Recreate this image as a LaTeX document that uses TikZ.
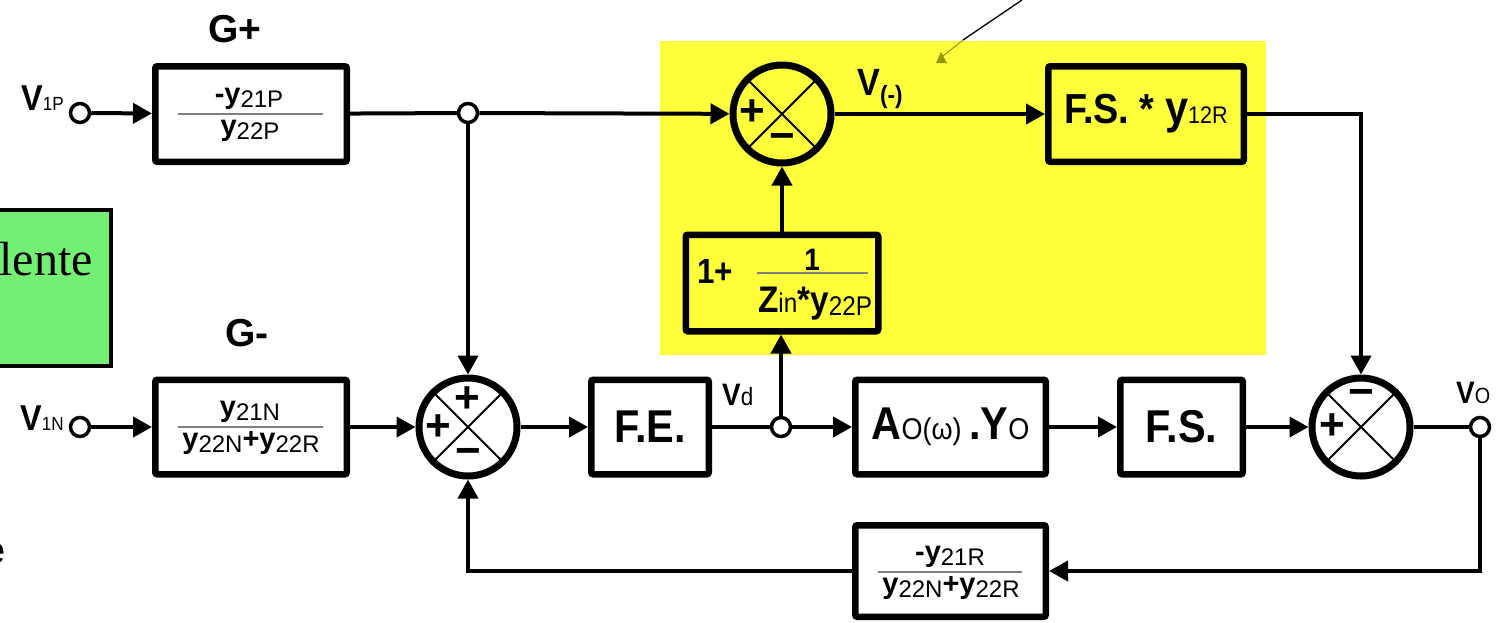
\documentclass[tikz,border=0pt]{standalone}
\usepackage{fontspec}
\setmainfont{Liberation Sans}
\newfontfamily\narrow{Liberation Sans}[FakeStretch=0.9]
\newfontfamily\seriffam{Liberation Serif}
\usetikzlibrary{arrows.meta,calc}
\newcommand{\fsz}[1]{\fontsize{#1}{#1}\selectfont}
\newcommand{\sbs}[3]{\raisebox{-#1pt}{\mdseries\fsz{#2}#3}}
\definecolor{yel}{RGB}{255,255,60}
\definecolor{grn}{RGB}{115,240,115}
\definecolor{oliv}{RGB}{150,150,0}
\tikzset{
 blk/.style={draw, line width=6.5pt, rounded corners=2pt, inner sep=0pt},
 sumnode/.style={circle, draw, line width=7pt, minimum size=98pt, inner sep=0pt},
 term/.style={circle, draw, line width=3.5pt, fill=white, minimum size=19pt, inner sep=0pt},
 wire/.style={line width=4pt},
 arr/.style={wire, -{Triangle[length=19pt,width=20pt]}},
 fracline/.style={line width=1.5pt, gray},
 xline/.style={line width=2pt},
 sign/.style={font=\fsz{44}\bfseries, inner sep=0pt},
 lbl/.style={inner sep=0pt, anchor=base},
 big/.style={font=\narrow\bfseries\fsz{46}},
 frac/.style={lbl, font=\bfseries\fsz{29}},
}
\begin{document}
\begin{tikzpicture}[x=1pt,y=-1pt]
\useasboundingbox (0,0) rectangle (1499,622);
\clip (0,0) rectangle (1499,622);
% backgrounds
\fill[yel] (660,41) rectangle (1266,355);
\node[draw, line width=4pt, fill=grn, minimum width=121pt, minimum height=156pt, inner sep=0pt] (green) at (50,288) {};
\node[lbl, anchor=base east, font=\seriffam\fsz{48}] (lente) at (93,275) {lente};
\node[lbl, anchor=base east, font=\fsz{38}] (e) at (6,563) {e};
% callout
\coordinate (c0) at (1022,0);
\coordinate (c1) at (963,40);
\coordinate (c2) at (943,56);
\draw[line width=1.3pt] (c0) -- (c1);
\draw[oliv, line width=1pt] (c1) -- (c2);
\fill[oliv] (936,63) -- (941,52) -- (947,63) -- cycle;
% terminals
\node[term] (i1) at (80,113) {};
\node[term] (i2) at (80,427) {};
\node[term] (j1) at (468,113) {};
\node[term] (j2) at (781,427) {};
\node[term] (o) at (1480,427) {};
\node[lbl, anchor=base east, font=\narrow\bfseries\fsz{36}] (v1p) at (64,110) {V\sbs{0}{19}{1P}};
\node[lbl, anchor=base east, font=\narrow\bfseries\fsz{36}] (v1n) at (64,430) {V\sbs{0}{19}{1N}};
% G+ block
\node[font=\bfseries\fsz{39}] (gpl) at (235,29) {G+};
\node[blk, minimum width=191.5pt, minimum height=95.5pt] (gp) at (251,114) {};
\draw[fracline] (178,114) -- (323,114);
\node[frac] (gpn) at (249,103) {-y\sbs{4}{24}{21P}};
\node[frac] (gpd) at (250,135) {y\sbs{4}{24}{22P}};
% G- block
\node[font=\bfseries\fsz{39}] (gml) at (247,333) {G-};
\node[blk, minimum width=191.5pt, minimum height=94.5pt] (gm) at (251,427) {};
\draw[fracline] (178,427) -- (323,427);
\node[frac] (gmn) at (250,416) {y\sbs{4}{24}{21N}};
\node[frac] (gmd) at (251,448) {y\sbs{4}{24}{22N}+y\sbs{4}{24}{22R}};
% sums
\node[sumnode] (s1) at (782,114) {};
\node[sumnode] (s2) at (468,427) {};
\node[sumnode] (s3) at (1361,427) {};
\foreach \s in {s1,s2,s3}{\draw[xline] (\s.45) -- (\s.225) (\s.135) -- (\s.315);}
\node[sign] at (752,113) {+};
\node[sign] at (782,142) {\char"2212};
\node[sign] at (467,400) {+};
\node[sign] at (438,428) {+};
\node[sign] at (468,457) {\char"2212};
\node[sign] at (1361,398) {\char"2212};
\node[sign] at (1332,427) {+};
% top right block
\node[blk, minimum width=195.5pt, minimum height=95.5pt, font=\narrow\bfseries\fsz{42}] (fsy) at (1146,114) {F.S. * {\fsz{46}y}\sbs{0}{24}{12R}};
\node[lbl, anchor=base west, font=\narrow\bfseries\fsz{38}] (vm) at (857,95) {V\sbs{8}{25}{\bfseries(-)}};
% Zin block
\node[blk, minimum width=192.5pt, minimum height=96.5pt] (zin) at (782,283) {};
\node[lbl, anchor=base west, font=\narrow\bfseries\fsz{35}] (onep) at (697,283) {1+};
\draw[fracline] (757,273) -- (868,273);
\node[lbl, font=\narrow\bfseries\fsz{31}] (one) at (812,270) {1};
\node[lbl, font=\narrow\bfseries\fsz{37}] (zy) at (815,312) {Z\sbs{0}{27}{in}*y\sbs{3}{27}{22P}};
% main row
\node[blk, minimum width=117.5pt, minimum height=94.5pt, big] (fe) at (650,427) {F.E.};
\node[lbl, anchor=base west, font=\narrow\bfseries\fsz{31}] (vd) at (722,405) {V\sbs{0}{25}{d}};
\node[blk, minimum width=190.5pt, minimum height=94.5pt, big] (ao) at (950.5,427) {A\sbs{0}{30}{O(ω)}\,.Y\sbs{0}{30}{O}};
\node[blk, minimum width=122.5pt, minimum height=94.5pt, big] (fs) at (1181.5,427) {F.S.};
\node[lbl, anchor=base west, font=\narrow\bfseries\fsz{31}] (vo) at (1456,403) {V\sbs{0}{22}{O}};
% feedback block
\node[blk, minimum width=190.5pt, minimum height=91.5pt] (fb) at (950.5,571) {};
\draw[fracline] (878,572) -- (1022,572);
\node[frac] (fbn) at (950,561) {-y\sbs{4}{24}{21R}};
\node[frac] (fbd) at (951,593) {y\sbs{4}{24}{22N}+y\sbs{4}{24}{22R}};
% connectors
\draw[arr] (i1) -- (gp);
\draw[wire] (gp) -- (j1);
\draw[arr] (j1) -- (s1);
\draw[arr] (j1) -- (s2);
\draw[arr] (s1) -- (fsy);
\draw[arr] (fsy.east) -| (s3.north);
\draw[arr] (zin) -- (s1);
\draw[arr] (j2) -- (j2 |- zin.south);
\draw[arr] (i2) -- (gm);
\draw[arr] (gm) -- (s2);
\draw[arr] (s2) -- (fe);
\draw[wire] (fe) -- (j2);
\draw[arr] (j2) -- (ao);
\draw[arr] (ao) -- (fs);
\draw[arr] (fs) -- (s3);
\draw[wire] (s3) -- (o);
\draw[arr] (o) |- (fb);
\draw[arr] (fb) -| (s2);
\end{tikzpicture}
\end{document}
